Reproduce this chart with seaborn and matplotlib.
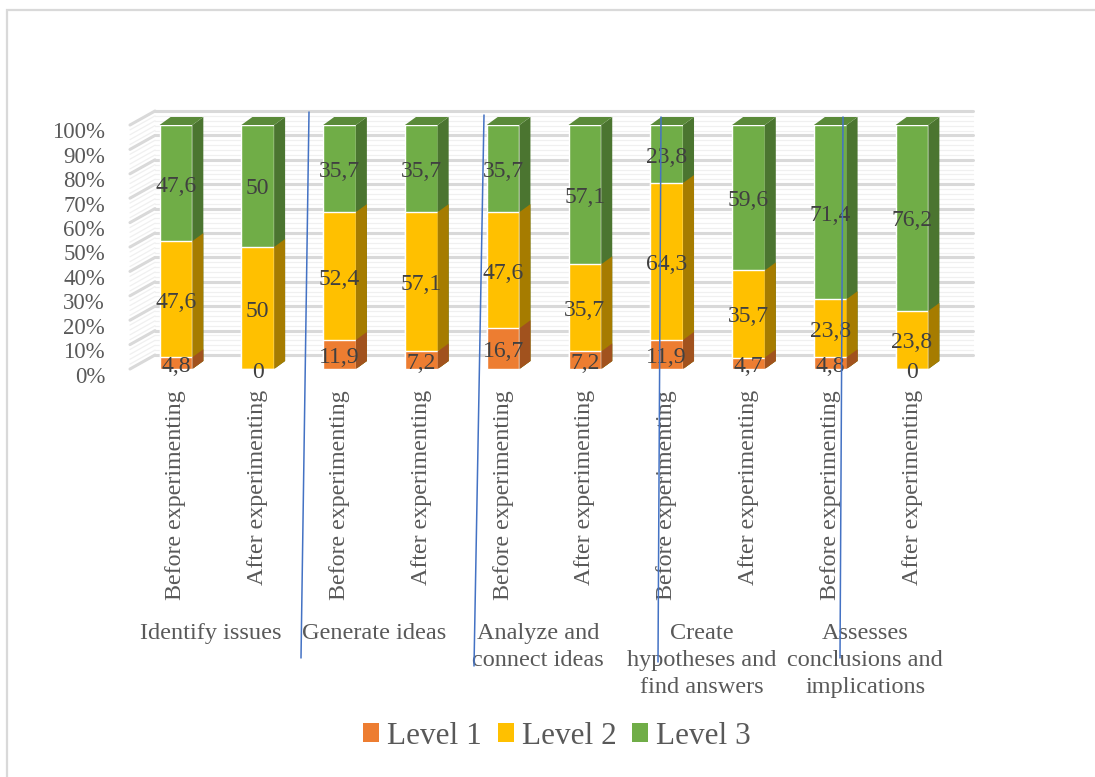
import pandas as pd
import matplotlib
matplotlib.use("Agg")
import matplotlib.pyplot as plt
import matplotlib.transforms as mtransforms
from matplotlib.patches import Polygon, Patch, Rectangle
from matplotlib.lines import Line2D
import seaborn as sns

# values (share of students per level, %)
skills = ["Identify issues", "Generate ideas", "Analyze and\nconnect ideas",
          "Create\nhypotheses and\nfind answers", "Assesses\nconclusions and\nimplications"]
stages = ["Before experimenting", "After experimenting"]
level1 = [4.8, 0, 11.9, 7.2, 16.7, 7.2, 11.9, 4.7, 4.8, 0]
level2 = [47.6, 50, 52.4, 57.1, 47.6, 35.7, 64.3, 35.7, 23.8, 23.8]
level3 = [47.6, 50, 35.7, 35.7, 35.7, 57.1, 23.8, 59.6, 71.4, 76.2]
level_names = ["Level 1", "Level 2", "Level 3"]
yticks = [0, 10, 20, 30, 40, 50, 60, 70, 80, 90, 100]

# colours: front, side, top
front = {"Level 1": "#ED7D31", "Level 2": "#FFC000", "Level 3": "#70AD47"}
side = {"Level 1": "#A1521E", "Level 2": "#A67C00", "Level 3": "#4B7530"}
top_green = "#5A8A39"

W, H = 1095, 777
sns.set_style("white")
plt.rcParams["font.family"] = ["Liberation Serif", "DejaVu Serif"]

df = pd.DataFrame({
    "bar": [f"{s}|{st}" for s in skills for st in stages],
    "stage": [st for s in skills for st in stages],
    "l1": level1, "l2": level2, "l3": level3,
})
df["cum1"] = df["l1"]
df["cum2"] = df["l1"] + df["l2"]
df["cum3"] = df["l1"] + df["l2"] + df["l3"]

fig = plt.figure(figsize=(W / 100, H / 100), dpi=100)
# front plane of the 3d plot
ax = fig.add_axes([130 / W, (H - 369) / H, (948 - 130) / W, 244 / H])
xlim = (-0.562, 9.44)
ax.set_xlim(*xlim)
ax.set_ylim(0, 100)

# depth of bars in data units (11 px right, 8 px up)
p0 = ax.transData.transform((0, 0))
p1 = ax.transData.transform((1, 1))
dx = 11 / (p1[0] - p0[0])
dy = 8 / (p1[1] - p0[1])

# stacked bars: draw cumulative totals, tallest first
for col, lvl in [("cum3", "Level 3"), ("cum2", "Level 2"), ("cum1", "Level 1")]:
    n = len(ax.patches)
    sns.barplot(data=df, x="bar", y=col, order=df["bar"], color=front[lvl],
                saturation=1, width=0.4, errorbar=None, ax=ax, zorder=2)
    for p in list(ax.patches[n:]):
        x0, y0, w, h = p.get_x(), p.get_y(), p.get_width(), p.get_height()
        ax.add_patch(Polygon([(x0 + w, y0), (x0 + w + dx, y0 + dy),
                              (x0 + w + dx, y0 + h + dy), (x0 + w, y0 + h)],
                             closed=True, fc=side[lvl], ec="none", zorder=2, clip_on=False))
        if col == "cum3":
            ax.add_patch(Polygon([(x0, y0 + h), (x0 + w, y0 + h),
                                  (x0 + w + dx, y0 + h + dy), (x0 + dx, y0 + h + dy)],
                                 closed=True, fc=top_green, ec="none", zorder=2, clip_on=False))
for p in ax.patches:
    p.set_clip_on(False)

ax.set_xlim(*xlim)
ax.set_ylim(0, 100)
ax.set_xlabel("")
ax.set_ylabel("")
for s in ax.spines.values():
    s.set_visible(False)
ax.patch.set_alpha(0)

# back wall gridlines (offset 25 px right, 14 px up) and side wall
back = ax.transData + mtransforms.ScaledTranslation(0.25, 0.14, fig.dpi_scale_trans)
for v in range(0, 101, 2):
    major = v % 10 == 0
    ax.plot(xlim, [v, v], transform=back, color="#D9D9D9" if major else "#F0F0F0",
            lw=2.2 if major else 0.9, zorder=0.5, clip_on=False)
    fx, fy = ax.transData.transform((xlim[0], v))
    fig.add_artist(Line2D([fx, fx + 25], [fy, fy + 14], transform=mtransforms.IdentityTransform(),
                          color="#D9D9D9" if major else "#F0F0F0", lw=2.2 if major else 0.9, zorder=0.5))

# y tick labels (front-left corner of side wall)
ylab = ax.get_yaxis_transform() + mtransforms.ScaledTranslation(-0.25, -0.08, fig.dpi_scale_trans)
for v in yticks:
    ax.text(0, v, f"{v}%", transform=ylab, ha="right", va="center",
            fontsize=16.5, color="#595959")

# x tick labels
ax.set_xticks(range(len(df)))
ax.set_xticklabels(df["stage"])
ax.tick_params(axis="x", length=0, pad=15, labelsize=17.3, labelcolor="#595959", rotation=90)
ax.set_yticks([])

# skill group labels
grp = mtransforms.blended_transform_factory(ax.transData, fig.transFigure) + \
    mtransforms.ScaledTranslation(-0.06, 0, fig.dpi_scale_trans)
for i, s in enumerate(skills):
    ax.text(2 * i + 0.5, 1 - 623 / H, s, transform=grp, ha="center", va="top",
            multialignment="center", fontsize=17.5, color="#595959", linespacing=1.38)

# data labels
lab = ax.transData + mtransforms.ScaledTranslation(0, -0.03, fig.dpi_scale_trans)
for i, row in df.iterrows():
    bottom = 0
    for key in ["l1", "l2", "l3"]:
        v = row[key]
        ax.text(i, bottom + v / 2, f"{v:g}".replace(".", ","), transform=lab,
                ha="center", va="center", fontsize=17, color="#404040", zorder=5)
        bottom += v

# legend
handles = [Patch(fc=front[l], ec="none") for l in level_names]
fig.legend(handles, level_names, loc="center", bbox_to_anchor=(557 / W, 1 - 736 / H),
           ncol=3, frameon=False, fontsize=22.5, labelcolor="#595959",
           handlelength=0.52, handleheight=0.52, handletextpad=0.25, columnspacing=0.5)

# chart border (left and top edges visible)
fig.add_artist(Rectangle((7 / W, -0.1), 1.2, 1.1 - 10 / H, transform=fig.transFigure,
                         fill=False, ec="#D9D9D9", lw=1.6))

# hand-drawn separator lines
seps = [((309, 112), (301, 658)), ((484, 115), (474, 666)),
        ((661, 117), (658, 662)), ((843, 117), (840, 658))]
for (xa, ya), (xb, yb) in seps:
    fig.add_artist(Line2D([xa / W, xb / W], [1 - ya / H, 1 - yb / H],
                          transform=fig.transFigure, color="#4472C4", lw=1.1, zorder=10))

fig.savefig("out.png", dpi=100)
